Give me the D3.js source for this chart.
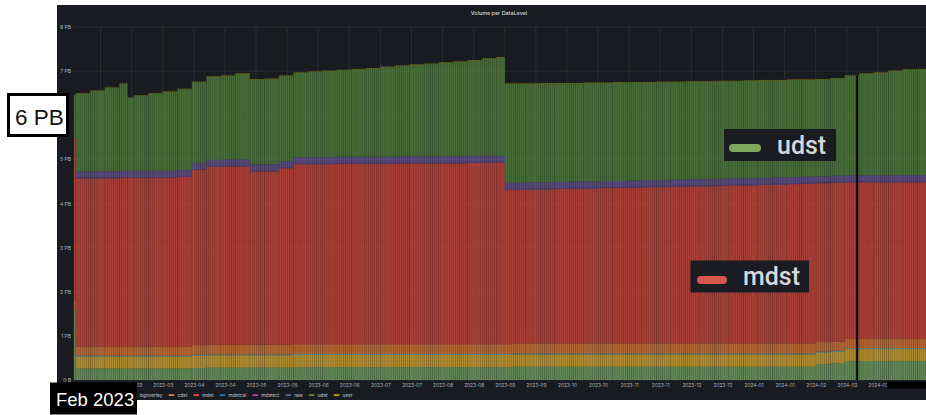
<!DOCTYPE html>
<html>
<head>
<meta charset="utf-8">
<script src="https://cdn.jsdelivr.net/npm/d3@7"></script>
<style>
  body { margin: 0; background: #fff; }
  svg { display: block; font-family: Inter, Roboto, sans-serif; }
</style>
</head>
<body>
<svg id="chart" width="926" height="415"></svg>
<script>
// bar start dates (weekly, a few split where the volume jumps)
const dates = [
  '2023-02-08', '2023-02-09', '2023-02-16', '2023-02-23', '2023-03-02', '2023-03-06', '2023-03-09', '2023-03-16',
  '2023-03-23', '2023-03-30', '2023-04-06', '2023-04-13', '2023-04-20', '2023-04-27', '2023-05-04', '2023-05-11',
  '2023-05-18', '2023-05-25', '2023-06-01', '2023-06-08', '2023-06-15', '2023-06-22', '2023-06-29', '2023-07-06',
  '2023-07-13', '2023-07-20', '2023-07-27', '2023-08-03', '2023-08-10', '2023-08-17', '2023-08-24', '2023-08-31',
  '2023-09-04', '2023-09-07', '2023-09-14', '2023-09-21', '2023-09-28', '2023-10-05', '2023-10-12', '2023-10-19',
  '2023-10-26', '2023-11-02', '2023-11-09', '2023-11-16', '2023-11-23', '2023-11-30', '2023-12-07', '2023-12-14',
  '2023-12-21', '2023-12-28', '2024-01-04', '2024-01-11', '2024-01-18', '2024-01-25', '2024-02-01', '2024-02-08',
  '2024-02-15', '2024-02-22', '2024-02-29', '2024-03-07', '2024-03-14', '2024-03-21'
];

const seriesNames = ['analysis', 'background', 'bgoverlay', 'cdst', 'mdst', 'mdstcal', 'mdstecl', 'raw', 'udst', 'user'];
const seriesColors = ['#7EB26D', '#EAB839', '#6ED0E0', '#EF843C', '#E24D42', '#1F78C1', '#BA43A9', '#705DA0', '#5A8E44', '#CCA300'];

// volumes in PB
const analysis = [
  1.59, 0.26, 0.26, 0.26, 0.26, 0.26, 0.26, 0.26, 0.26, 0.26, 0.27, 0.28, 0.28, 0.28, 0.28, 0.28,
  0.28, 0.29, 0.29, 0.29, 0.29, 0.29, 0.29, 0.29, 0.29, 0.29, 0.29, 0.29, 0.29, 0.29, 0.29, 0.29,
  0.29, 0.30, 0.30, 0.30, 0.30, 0.30, 0.30, 0.30, 0.30, 0.30, 0.30, 0.30, 0.30, 0.30, 0.30, 0.30,
  0.30, 0.30, 0.30, 0.30, 0.30, 0.30, 0.36, 0.38, 0.43, 0.43, 0.43, 0.43, 0.43, 0.43
];
const background = [
  0.00, 0.27, 0.27, 0.27, 0.27, 0.27, 0.27, 0.27, 0.27, 0.27, 0.28, 0.28, 0.28, 0.28, 0.28, 0.28,
  0.28, 0.28, 0.28, 0.28, 0.28, 0.28, 0.28, 0.28, 0.28, 0.28, 0.28, 0.28, 0.28, 0.28, 0.28, 0.28,
  0.28, 0.28, 0.28, 0.28, 0.28, 0.28, 0.28, 0.28, 0.28, 0.28, 0.28, 0.28, 0.28, 0.28, 0.28, 0.28,
  0.28, 0.28, 0.28, 0.28, 0.28, 0.28, 0.26, 0.26, 0.27, 0.27, 0.27, 0.27, 0.27, 0.27
];
const bgoverlay = [
  0.00, 0.02, 0.02, 0.02, 0.02, 0.02, 0.02, 0.02, 0.02, 0.02, 0.02, 0.02, 0.02, 0.02, 0.02, 0.02,
  0.02, 0.02, 0.02, 0.02, 0.02, 0.02, 0.02, 0.02, 0.02, 0.02, 0.02, 0.02, 0.02, 0.02, 0.02, 0.02,
  0.02, 0.02, 0.02, 0.02, 0.02, 0.02, 0.02, 0.02, 0.02, 0.02, 0.02, 0.02, 0.02, 0.02, 0.02, 0.02,
  0.02, 0.02, 0.02, 0.02, 0.02, 0.02, 0.02, 0.02, 0.02, 0.02, 0.02, 0.02, 0.02, 0.02
];
const cdst = [
  0.21, 0.21, 0.21, 0.21, 0.21, 0.21, 0.21, 0.21, 0.21, 0.21, 0.22, 0.22, 0.22, 0.22, 0.22, 0.22,
  0.22, 0.22, 0.22, 0.22, 0.22, 0.22, 0.22, 0.22, 0.22, 0.22, 0.22, 0.22, 0.22, 0.22, 0.22, 0.22,
  0.22, 0.23, 0.23, 0.23, 0.23, 0.23, 0.23, 0.23, 0.23, 0.23, 0.23, 0.23, 0.23, 0.23, 0.23, 0.23,
  0.23, 0.23, 0.23, 0.23, 0.23, 0.23, 0.22, 0.21, 0.22, 0.22, 0.22, 0.22, 0.22, 0.22
];
const mdst = [
  3.69, 3.81, 3.81, 3.81, 3.82, 3.82, 3.82, 3.82, 3.82, 3.84, 3.97, 4.03, 4.04, 4.04, 3.93, 3.93,
  4.00, 4.08, 4.08, 4.08, 4.09, 4.09, 4.09, 4.09, 4.10, 4.10, 4.10, 4.10, 4.10, 4.11, 4.11, 4.11,
  3.50, 3.48, 3.49, 3.49, 3.50, 3.51, 3.51, 3.52, 3.52, 3.53, 3.54, 3.54, 3.55, 3.56, 3.56, 3.57,
  3.58, 3.58, 3.59, 3.60, 3.61, 3.62, 3.60, 3.60, 3.54, 3.54, 3.54, 3.54, 3.54, 3.54
];
const mdstcal = [
  0.00, 0.01, 0.01, 0.01, 0.01, 0.01, 0.01, 0.01, 0.01, 0.01, 0.01, 0.01, 0.01, 0.01, 0.01, 0.01,
  0.01, 0.01, 0.01, 0.01, 0.01, 0.01, 0.01, 0.01, 0.01, 0.01, 0.01, 0.01, 0.01, 0.01, 0.01, 0.01,
  0.01, 0.01, 0.01, 0.01, 0.01, 0.01, 0.01, 0.01, 0.01, 0.01, 0.01, 0.01, 0.01, 0.01, 0.01, 0.01,
  0.01, 0.01, 0.01, 0.01, 0.01, 0.01, 0.01, 0.01, 0.01, 0.01, 0.01, 0.01, 0.01, 0.01
];
const mdstecl = [
  0.00, 0.01, 0.01, 0.01, 0.01, 0.01, 0.01, 0.01, 0.01, 0.01, 0.01, 0.01, 0.01, 0.01, 0.01, 0.01,
  0.01, 0.01, 0.01, 0.01, 0.01, 0.01, 0.01, 0.01, 0.01, 0.01, 0.01, 0.01, 0.01, 0.01, 0.01, 0.01,
  0.01, 0.01, 0.01, 0.01, 0.01, 0.01, 0.01, 0.01, 0.01, 0.01, 0.01, 0.01, 0.01, 0.01, 0.01, 0.01,
  0.01, 0.01, 0.01, 0.01, 0.01, 0.01, 0.01, 0.01, 0.01, 0.01, 0.01, 0.01, 0.01, 0.01
];
const raw = [
  0.00, 0.14, 0.14, 0.14, 0.14, 0.14, 0.14, 0.14, 0.14, 0.14, 0.14, 0.14, 0.14, 0.14, 0.14, 0.14,
  0.14, 0.14, 0.14, 0.14, 0.14, 0.14, 0.14, 0.14, 0.14, 0.14, 0.14, 0.14, 0.14, 0.14, 0.14, 0.14,
  0.14, 0.14, 0.14, 0.14, 0.14, 0.14, 0.14, 0.14, 0.14, 0.14, 0.14, 0.14, 0.14, 0.14, 0.14, 0.14,
  0.14, 0.14, 0.14, 0.14, 0.14, 0.14, 0.14, 0.14, 0.14, 0.14, 0.14, 0.14, 0.14, 0.14
];
const udst = [
  0.97, 1.76, 1.82, 1.89, 1.97, 1.65, 1.70, 1.75, 1.79, 1.83, 1.83, 1.88, 1.89, 1.94, 1.92, 1.93,
  1.93, 1.91, 1.93, 1.95, 1.96, 1.98, 2.00, 2.03, 2.05, 2.07, 2.09, 2.12, 2.14, 2.16, 2.20, 2.23,
  2.24, 2.24, 2.23, 2.24, 2.23, 2.22, 2.23, 2.22, 2.23, 2.22, 2.21, 2.22, 2.21, 2.21, 2.21, 2.21,
  2.20, 2.21, 2.21, 2.20, 2.20, 2.19, 2.19, 2.20, 2.25, 2.30, 2.32, 2.36, 2.39, 2.40
];
const user = [
  0.00, 0.01, 0.01, 0.01, 0.01, 0.01, 0.01, 0.01, 0.01, 0.01, 0.01, 0.01, 0.01, 0.01, 0.01, 0.01,
  0.01, 0.01, 0.01, 0.01, 0.01, 0.01, 0.01, 0.01, 0.01, 0.01, 0.01, 0.01, 0.01, 0.01, 0.01, 0.01,
  0.01, 0.01, 0.01, 0.01, 0.01, 0.01, 0.01, 0.01, 0.01, 0.01, 0.01, 0.01, 0.01, 0.01, 0.01, 0.01,
  0.01, 0.01, 0.01, 0.01, 0.01, 0.01, 0.01, 0.01, 0.01, 0.01, 0.01, 0.01, 0.01, 0.01
];

const tickDates = [
  '2023-02-21', '2023-03-08', '2023-03-23', '2023-04-07', '2023-04-22', '2023-05-07', '2023-05-22',
  '2023-06-06', '2023-06-21', '2023-07-06', '2023-07-21', '2023-08-05', '2023-08-20', '2023-09-04',
  '2023-09-19', '2023-10-04', '2023-10-19', '2023-11-03', '2023-11-18', '2023-12-03', '2023-12-18',
  '2024-01-02', '2024-01-17', '2024-02-01', '2024-02-16', '2024-03-02'
];
// 6 PB is covered by the big "6 PB" label in the reference
const yTicks = [0, 1, 2, 3, 4, 5, 7, 8];
const gridTicks = [0, 1, 2, 3, 4, 5, 6, 7, 8];
const markerDate = '2024-02-21';
const calloutNames = ['udst', 'mdst'];

const values = { analysis, background, bgoverlay, cdst, mdst, mdstcal, mdstecl, raw, udst, user };
const colorOf = {};
seriesNames.forEach((n, i) => { colorOf[n] = seriesColors[i]; });

const parse = d3.timeParse('%Y-%m-%d');
const rows = dates.map((d, i) => {
  const row = { start: parse(d) };
  row.end = i < dates.length - 1 ? parse(dates[i + 1]) : d3.timeDay.offset(row.start, 7);
  seriesNames.forEach(n => { row[n] = values[n][i]; });
  return row;
});

const svg = d3.select('#chart');

// panel
svg.append('rect').attr('x', 57).attr('y', 5).attr('width', 890).attr('height', 395).attr('fill', '#181b1f');
svg.append('text').attr('x', 499).attr('y', 15).attr('text-anchor', 'middle')
  .attr('font-size', 5.4).attr('font-weight', 500).attr('fill', '#d8d9da').text('Volume per DataLevel');

const x = d3.scaleTime().domain([parse('2023-02-08'), parse('2024-03-25')]).range([73.6, 925.6]);
const y = d3.scaleLinear().domain([0, 8]).range([380, 27]);

// grid
const grid = svg.append('g');
grid.selectAll('.hg').data(gridTicks).enter().append('line')
  .attr('x1', 73).attr('x2', 926).attr('y1', d => y(d)).attr('y2', d => y(d))
  .attr('stroke', 'rgba(204,204,220,0.1)').attr('stroke-width', 1);
grid.selectAll('.vg').data(tickDates).enter().append('line')
  .attr('x1', d => x(parse(d))).attr('x2', d => x(parse(d))).attr('y1', 27).attr('y2', 380)
  .attr('stroke', 'rgba(204,204,220,0.1)').attr('stroke-width', 1);

svg.append('clipPath').attr('id', 'plot').append('rect')
  .attr('x', 73.6).attr('y', 20).attr('width', 926 - 73.6).attr('height', 361);

// stacked bars
const stacked = d3.stack().keys(seriesNames)(rows);
const bars = svg.append('g').attr('clip-path', 'url(#plot)');
bars.selectAll('g.layer').data(stacked).enter().append('g')
  .attr('fill', d => colorOf[d.key]).attr('fill-opacity', 0.72)
  .selectAll('rect').data(d => d).enter().append('rect')
  .attr('x', d => x(d.data.start))
  .attr('width', d => x(d.data.end) - x(d.data.start))
  .attr('y', d => y(d[1]))
  .attr('height', d => y(d[0]) - y(d[1]));

// thin daily stripes so it reads like the daily bars
const dayW = x(parse('2023-02-09')) - x(parse('2023-02-08'));
const pat = svg.append('defs').append('pattern').attr('id', 'days')
  .attr('patternUnits', 'userSpaceOnUse').attr('x', 73.6).attr('y', 0)
  .attr('width', dayW).attr('height', 20);
pat.append('rect').attr('width', dayW * 0.35).attr('height', 20).attr('fill', '#000').attr('fill-opacity', 0.22);
const last = stacked[stacked.length - 1];
bars.selectAll('rect.stripe').data(last).enter().append('rect').attr('class', 'stripe')
  .attr('x', d => x(d.data.start))
  .attr('width', d => x(d.data.end) - x(d.data.start))
  .attr('y', d => y(d[1]))
  .attr('height', d => y(0) - y(d[1]))
  .attr('fill', 'url(#days)');

// axes
const yAxis = svg.append('g').attr('transform', 'translate(71,0)')
  .call(d3.axisLeft(y).tickValues(yTicks).tickSize(0).tickPadding(0)
    .tickFormat(d => d === 0 ? '0 B' : d + ' PB'));
yAxis.select('.domain').remove();
yAxis.selectAll('text').attr('font-size', 5).attr('fill', '#b4b5bd').attr('font-family', 'Inter, sans-serif');

const xAxis = svg.append('g').attr('transform', 'translate(0,382)')
  .call(d3.axisBottom(x).tickValues(tickDates.map(parse)).tickSize(0).tickPadding(2)
    .tickFormat(d3.timeFormat('%Y-%m')));
xAxis.select('.domain').remove();
xAxis.selectAll('text').attr('font-size', 4.8).attr('fill', '#b4b5bd').attr('font-family', 'Inter, sans-serif');

// legend (bottom row); bgoverlay marker starts at x=131, earlier entries sit under the "Feb 2023" box
const legend = svg.append('g').attr('font-size', 4.8).attr('fill', '#c7c8d0');
let lx = 131;
seriesNames.slice(seriesNames.indexOf('bgoverlay')).forEach(n => {
  legend.append('rect').attr('x', lx).attr('y', 394.3).attr('width', 6).attr('height', 1.6)
    .attr('rx', 0.8).attr('fill', colorOf[n]);
  const t = legend.append('text').attr('x', lx + 9).attr('y', 396.8).text(n);
  lx += 9 + t.node().getComputedTextLength() + 6;
});

// marker line
const mRow = rows.find(r => r.start <= parse(markerDate) && r.end > parse(markerDate));
const mTop = seriesNames.reduce((s, n) => s + mRow[n], 0);
svg.append('line').attr('x1', x(parse(markerDate))).attr('x2', x(parse(markerDate)))
  .attr('y1', y(mTop)).attr('y2', y(0)).attr('stroke', '#000').attr('stroke-width', 2);

// black patch over the last tick label
svg.append('rect').attr('x', 887).attr('y', 381.5).attr('width', 39).attr('height', 7).attr('fill', '#000');

// enlarged series callouts
const callouts = [
  { box: [724, 129, 112, 32], mark: [729, 144, 32, 8], tx: 777, ty: 153.5 },
  { box: [690.5, 260.5, 118.5, 32], mark: [697, 276, 30, 8], tx: 743, ty: 285 }
];
callouts.forEach((c, i) => {
  const g = svg.append('g');
  g.append('rect').attr('x', c.box[0]).attr('y', c.box[1]).attr('width', c.box[2]).attr('height', c.box[3])
    .attr('fill', '#1a1c21');
  g.append('rect').attr('x', c.mark[0]).attr('y', c.mark[1]).attr('width', c.mark[2]).attr('height', c.mark[3])
    .attr('rx', 4).attr('fill', i === 0 ? '#7DA75A' : '#D9584C');
  g.append('text').attr('x', c.tx).attr('y', c.ty).attr('font-family', 'Roboto, Inter, sans-serif')
    .attr('font-size', 25).attr('font-weight', 500).attr('fill', '#d6d7dc').text(calloutNames[i]);
});

// "6 PB" label box
svg.append('rect').attr('x', 8.5).attr('y', 94.5).attr('width', 59).attr('height', 41)
  .attr('fill', '#fff').attr('stroke', '#000').attr('stroke-width', 3);
svg.append('text').attr('x', 15).attr('y', 125).attr('font-family', '"Liberation Sans", Arial, sans-serif')
  .attr('font-size', 22.5).attr('fill', '#111').text('6 PB');

// "Feb 2023" label box
svg.append('rect').attr('x', 50).attr('y', 382.5).attr('width', 87).attr('height', 32).attr('fill', '#000');
svg.append('text').attr('x', 56).attr('y', 406).attr('font-family', '"Liberation Sans", Arial, sans-serif')
  .attr('font-size', 18.5).attr('fill', '#fff').text('Feb 2023');
</script>
</body>
</html>
